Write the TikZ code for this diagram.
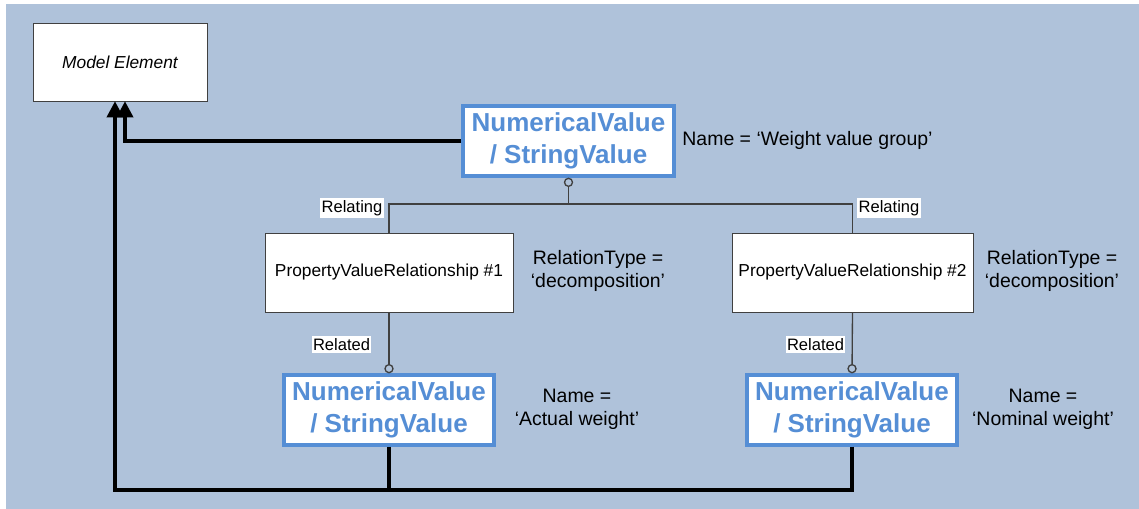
\documentclass[tikz,border=0pt]{standalone}
\usepackage{fontspec}
\setmainfont{Liberation Sans}
\usetikzlibrary{arrows.meta,positioning}
\definecolor{bgblue}{RGB}{175,194,218}
\definecolor{valblue}{RGB}{85,142,213}
\definecolor{lineg}{RGB}{64,64,64}

\begin{document}
\begin{tikzpicture}[x=0.75pt, y=-0.75pt,
    plain/.style={draw=lineg, fill=white, inner sep=0pt, font=\fontsize{13}{15}\selectfont},
    valbox/.style={draw=valblue, line width=3pt, fill=white, minimum width=158pt, minimum height=52pt, inner sep=0pt, align=center, text=valblue, font=\fontsize{19.5}{24}\selectfont\bfseries},
    role/.style={fill=white, inner xsep=1pt, inner ysep=2pt, font=\fontsize{12.4}{14}\selectfont},
    note/.style={align=center, font=\fontsize{14.6}{17.25}\selectfont},
    link/.style={draw=lineg, line width=1pt},
    gen/.style={line width=2.6pt, -{Triangle[length=12pt, width=12pt]}}
]
% background
\useasboundingbox (0,0) rectangle (1139,509);
\fill[white] (0,0) rectangle (1139,509);
\fill[bgblue] (6,4) rectangle (1139,509);

% boxes
\node[plain, minimum width=130.5pt, minimum height=58.5pt, font=\fontsize{13}{15}\selectfont\itshape] (model) at (120,62) {Model Element};
\node[valbox] (group) at (568.5,141) {NumericalValue\\/ StringValue};
\node[plain, minimum width=186pt, minimum height=59.25pt] (rel1) at (389,272.5) {PropertyValueRelationship \#1};
\node[plain, minimum width=180.75pt, minimum height=59.25pt] (rel2) at (852.5,272.5) {PropertyValueRelationship \#2};
\node[valbox] (actual) at (389,410) {NumericalValue\\/ StringValue};
\node[valbox] (nominal) at (852,410) {NumericalValue\\/ StringValue};

% notes
\node[note] (groupname) at (807.5,140) {Name = ‘Weight value group’};
\node[note] (type1) at (598,271) {RelationType =\\‘decomposition’};
\node[note] (type2) at (1052,271) {RelationType =\\‘decomposition’};
\node[note] (actualname) at (577,409) {Name =\\‘Actual weight’};
\node[note] (nominalname) at (1043,409) {Name =\\‘Nominal weight’};

% relating / related
\coordinate (split) at (568.5,204);
\draw[link] (rel1.north) |- (split) -| (rel2.north);
\draw[link, {Circle[open, length=7pt, width=7pt]}-] (group.south) -- (split);
\draw[link, -{Circle[open, length=7pt, width=7pt]}] (rel1.south) -- (actual.north);
\draw[link, -{Circle[open, length=7pt, width=7pt]}] (rel2.south) -- (nominal.north);
\node[role] (relating1) at (352,208) {Relating};
\node[role] (relating2) at (889,208) {Relating};
\node[role] (related1) at (341.5,344.5) {Related};
\node[role] (related2) at (815.5,344.5) {Related};

% generalisation
\coordinate (busl) at (115,490);
\coordinate (busr) at (852,490);
\draw[gen] (group.west) -| ([xshift=3.75pt]model.south);
\draw[gen] (nominal.south) -- (busr) -- (busl) -- ([xshift=-3.75pt]model.south);
\draw[line width=2.6pt] (actual.south) -- (actual.south |- busl);
\end{tikzpicture}
\end{document}
